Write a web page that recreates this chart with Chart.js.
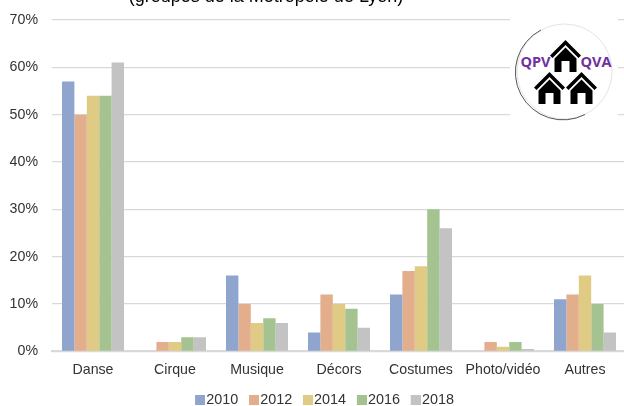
<!DOCTYPE html>
<html><head><meta charset="utf-8">
<script src="https://cdn.jsdelivr.net/npm/chart.js@4"></script>
<style>
html,body{margin:0;padding:0;background:#fff;width:624px;height:406px;overflow:hidden}
#wrap{position:absolute;left:0;top:0;width:626px;height:417px}
#logo{position:absolute;left:508px;top:12px;width:112px;height:110px}
</style></head><body>
<div id="wrap"><canvas id="c" width="626" height="417"></canvas></div>
<svg id="logo" viewBox="508 12 112 110" xmlns="http://www.w3.org/2000/svg">
<defs>
<g id="h"><path d="M0 -18 L-15.5 -2.5 L-13 0 L0 -13 L13 0 L15.5 -2.5 Z" fill="#000"/><path d="M-11 0.5 L0 -10.5 L11 0.5 L11 14 L4 14 L4 3 L-4 3 L-4 14 L-11 14 Z" fill="#000"/></g>
</defs>
<rect x="510" y="14" width="108" height="106" fill="#fff"/>
<ellipse cx="564.5" cy="71.5" rx="47.5" ry="47.5" fill="#fff" stroke="#e4e4e4" stroke-width="1"/>
<path d="M541 30 A47.5 47.5 0 0 0 585 114.5" fill="none" stroke="#555" stroke-width="1"/>
<use href="#h" x="565.5" y="58"/>
<use href="#h" x="549.5" y="90"/>
<use href="#h" x="581.5" y="90"/>
<text x="535.5" y="67" text-anchor="middle" font-family="Open Sans" font-weight="700" font-size="14.5" fill="#7030A0">QPV</text>
<text x="596" y="67" text-anchor="middle" font-family="Open Sans" font-weight="700" font-size="14.5" fill="#7030A0">QVA</text>
</svg>
<script>
const categories=["Danse","Cirque","Musique","Décors","Costumes","Photo/vidéo","Autres"];
const years=["2010","2012","2014","2016","2018"];
const v2010=[57,null,16,4,12,null,11];
const v2012=[50,2,10,12,17,2,12];
const v2014=[54,2,6,10,18,1,16];
const v2016=[54,3,7,9,30,2,10];
const v2018=[61,3,6,5,26,0.5,4];
const colors=["#8FA5CE","#E3AE8C","#DFCB83","#A5C391","#C3C3C3"];
const yTicks=[0,10,20,30,40,50,60,70];
const titleText="(groupes de la Métropole de Lyon)";
const font='"Liberation Sans", Arial, sans-serif';
const textColor="#333333";
const all=[v2010,v2012,v2014,v2016,v2018];
function swatch(col){const k=document.createElement('canvas');k.width=12;k.height=10;const g=k.getContext('2d');g.fillStyle=col;g.fillRect(2,0,10,10);return k;}
const swatches=colors.map(swatch);
const titlePlugin={id:'clippedTitle',
 afterLayout(ch){ch.legend.left+=13.5;ch.legend.right+=13.5;},
 afterDraw(ch){const g=ch.ctx;g.save();g.font='18px '+font;g.fillStyle='#000';g.textAlign='center';g.textBaseline='alphabetic';g.fillText(titleText,266,2);g.restore();}};
new Chart(document.getElementById('c'),{
 type:'bar',
 data:{labels:categories,datasets:years.map((y,i)=>({label:y,data:all[i],backgroundColor:colors[i],borderWidth:0,categoryPercentage:0.756,barPercentage:1}))},
 plugins:[titlePlugin],
 options:{responsive:false,animation:false,
  layout:{padding:{left:0,right:0,top:20,bottom:0}},
  plugins:{
   tooltip:{enabled:false},
   title:{display:false},
   legend:{position:'bottom',labels:{usePointStyle:true,pointStyleWidth:0.01,boxHeight:10,padding:14.7,color:textColor,font:{family:font,size:14.4},
     generateLabels:c=>c.data.datasets.map((d,i)=>({text:d.label,fontColor:textColor,pointStyle:swatches[i],datasetIndex:i,fillStyle:colors[i],lineWidth:0,strokeStyle:'transparent'}))}}
  },
  scales:{
   x:{grid:{display:false},border:{color:"#D9D9D9",width:2},ticks:{color:textColor,font:{family:font,size:14.2},padding:2,maxRotation:0},afterFit:s=>{s.height-=2.5}},
   y:{min:0,max:70,afterBuildTicks:a=>{a.ticks=yTicks.map(v=>({value:v}))},
      grid:{color:"#D9D9D9",lineWidth:1.3,drawTicks:false},border:{display:false},
      ticks:{color:textColor,font:{family:font,size:14.2},padding:14,callback:v=>v+"%"},afterFit:s=>{s.width=52;s.paddingTop=0;s.paddingBottom=0}}
  }
 }
});
</script>
</body></html>
